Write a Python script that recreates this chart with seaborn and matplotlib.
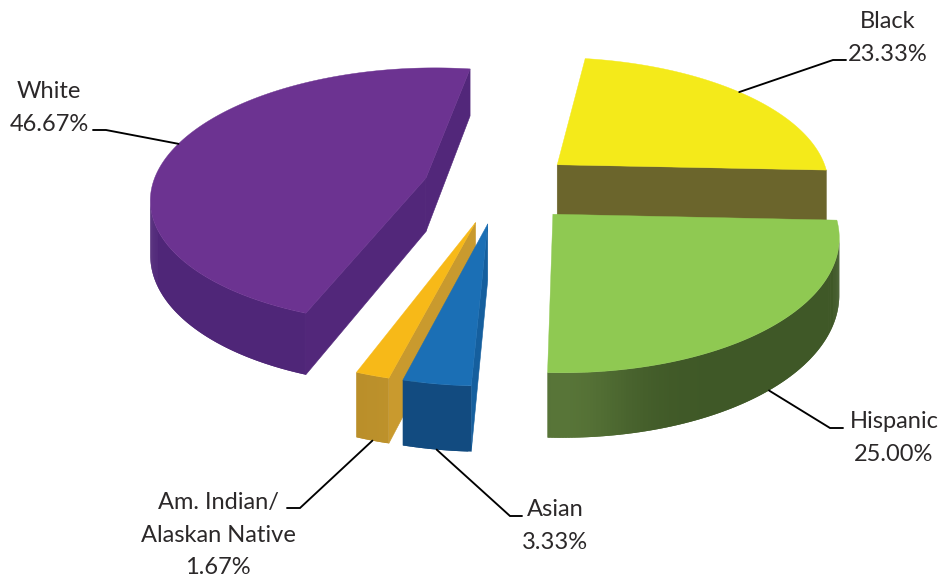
import numpy as np
import matplotlib
matplotlib.use("Agg")
import matplotlib.pyplot as plt
import seaborn as sns

# order is clockwise from the start angle, same as the source pie
categories = ["Black", "Hispanic", "Asian", "Am. Indian/\nAlaskan Native", "White"]
shares = [23.33, 25.00, 3.33, 1.67, 46.67]

top_colors = ["#F4EA1A", "#8FC952", "#1B6FB5", "#F7B918", "#6C3391"]
wall_light = ["#6B652C", "#587538", "#124B80", "#C79A2E", "#56297F"]
wall_dark = ["#6B652C", "#3F5827", "#124B80", "#B98E2A", "#4F2678"]
cut_colors = ["#6B652C", "#3F5827", "#155F9E", "#C99A2E", "#52277A"]

# fake 3d camera
CX, CY = 499.5, 187
RX, RY = 274, 128
PERSP = 0.14
DEPTH = 54
EXPLODE = 0.28
START = 8.5

# text centre x, first line y, leader elbow, leader end, anchor angle shift
label_pos = {
    "Black": (888, 22, (833, 60), (846, 60), -1),
    "Hispanic": (894, 422, (830, 428), (843, 428), 1),
    "Asian": (555, 510, (510, 516), (522, 516), 0),
    "Am. Indian/\nAlaskan Native": (218, 503, (300, 508), (287, 508), 0),
    "White": (49, 92, (106, 130), (93, 130), 2),
}


def project(t, off, drop=0.0):
    X = np.sin(np.radians(t)) + off[0]
    Y = np.cos(np.radians(t)) + off[1]
    w = 1 + PERSP * Y
    return CX + RX * X / w, CY - RY * Y / w + drop / w


def apex(off, drop=0.0):
    w = 1 + PERSP * off[1]
    return CX + RX * off[0] / w, CY - RY * off[1] / w + drop / w


def mix(c1, c2, f):
    a = np.array(matplotlib.colors.to_rgb(c1))
    b = np.array(matplotlib.colors.to_rgb(c2))
    return tuple(a + (b - a) * f)


sns.set_theme(style="white")
plt.rcParams["font.family"] = ["Lato", "DejaVu Sans"]

fig, ax = plt.subplots(figsize=(9.43, 5.8), dpi=100)
ax.set_position([0, 0, 1, 1])
ax.set_xlim(0, 943)
ax.set_ylim(580, 0)
ax.axis("off")

# slice angles from the values
edges = START + np.concatenate([[0], np.cumsum(shares)]) * 3.6
slices = []
for i, name in enumerate(categories):
    t0, t1 = edges[i], edges[i + 1]
    mid = (t0 + t1) / 2
    off = (EXPLODE * np.sin(np.radians(mid)), EXPLODE * np.cos(np.radians(mid)))
    slices.append(dict(i=i, name=name, t0=t0, t1=t1, off=off))

# paint far slices first
for s in sorted(slices, key=lambda d: d["off"][1], reverse=True):
    i, t0, t1, off = s["i"], s["t0"], s["t1"], s["off"]
    ts = np.linspace(t0, t1, int(t1 - t0) * 2 + 2)
    ax_, ay_ = apex(off)
    bx_, by_ = apex(off, DEPTH)
    px, py = project(ts, off)
    qx, qy = project(ts, off, DEPTH)

    # cut faces, only the ones facing the viewer
    if px[0] < ax_:
        ax.fill([ax_, px[0], qx[0], bx_], [ay_, py[0], qy[0], by_], color=cut_colors[i], lw=0.4, zorder=2)
    if ax_ < px[-1]:
        ax.fill([px[-1], ax_, bx_, qx[-1]], [py[-1], ay_, by_, qy[-1]], color=cut_colors[i], lw=0.4, zorder=2)

    # outer wall in thin strips for the shading, each one runs under the next
    vis = np.where(px[1:] < px[:-1])[0]
    order = vis[::-1] if s["name"] == "White" else vis
    for k in order:
        f = abs(np.cos(np.radians(ts[k]))) ** 40
        col = mix(wall_dark[i], wall_light[i], f)
        k2 = min(k + 2, len(ts) - 1) if s["name"] != "White" else k + 1
        k1 = k if s["name"] != "White" else max(k - 1, 0)
        seg = np.arange(k1, k2 + 1)
        ax.fill(np.r_[px[seg], qx[seg][::-1]], np.r_[py[seg], qy[seg][::-1]], color=col, lw=0, zorder=2)

    ax.fill(np.r_[ax_, px], np.r_[ay_, py], color=top_colors[i], lw=0.3, zorder=2)

# labels and leader lines
for s, v in zip(slices, shares):
    xt, yt, elbow, end, dt = label_pos[s["name"]]
    lines = s["name"].split("\n") + [f"{v:.2f}%"]
    for j, line in enumerate(lines):
        ax.text(xt, yt + j * 32.5, line, ha="center", va="center", fontsize=17, color="#2B2829", zorder=4)
    tm = (s["t0"] + s["t1"]) / 2 + dt
    front = np.cos(np.radians(tm)) < -0.5
    sx, sy = project(tm, s["off"], DEPTH if front else 0)
    ax.plot([sx, elbow[0], end[0]], [sy, elbow[1], end[1]], color="black", lw=1.35, zorder=3, solid_joinstyle="miter")

plt.savefig("out.png", dpi=100)
plt.close()
